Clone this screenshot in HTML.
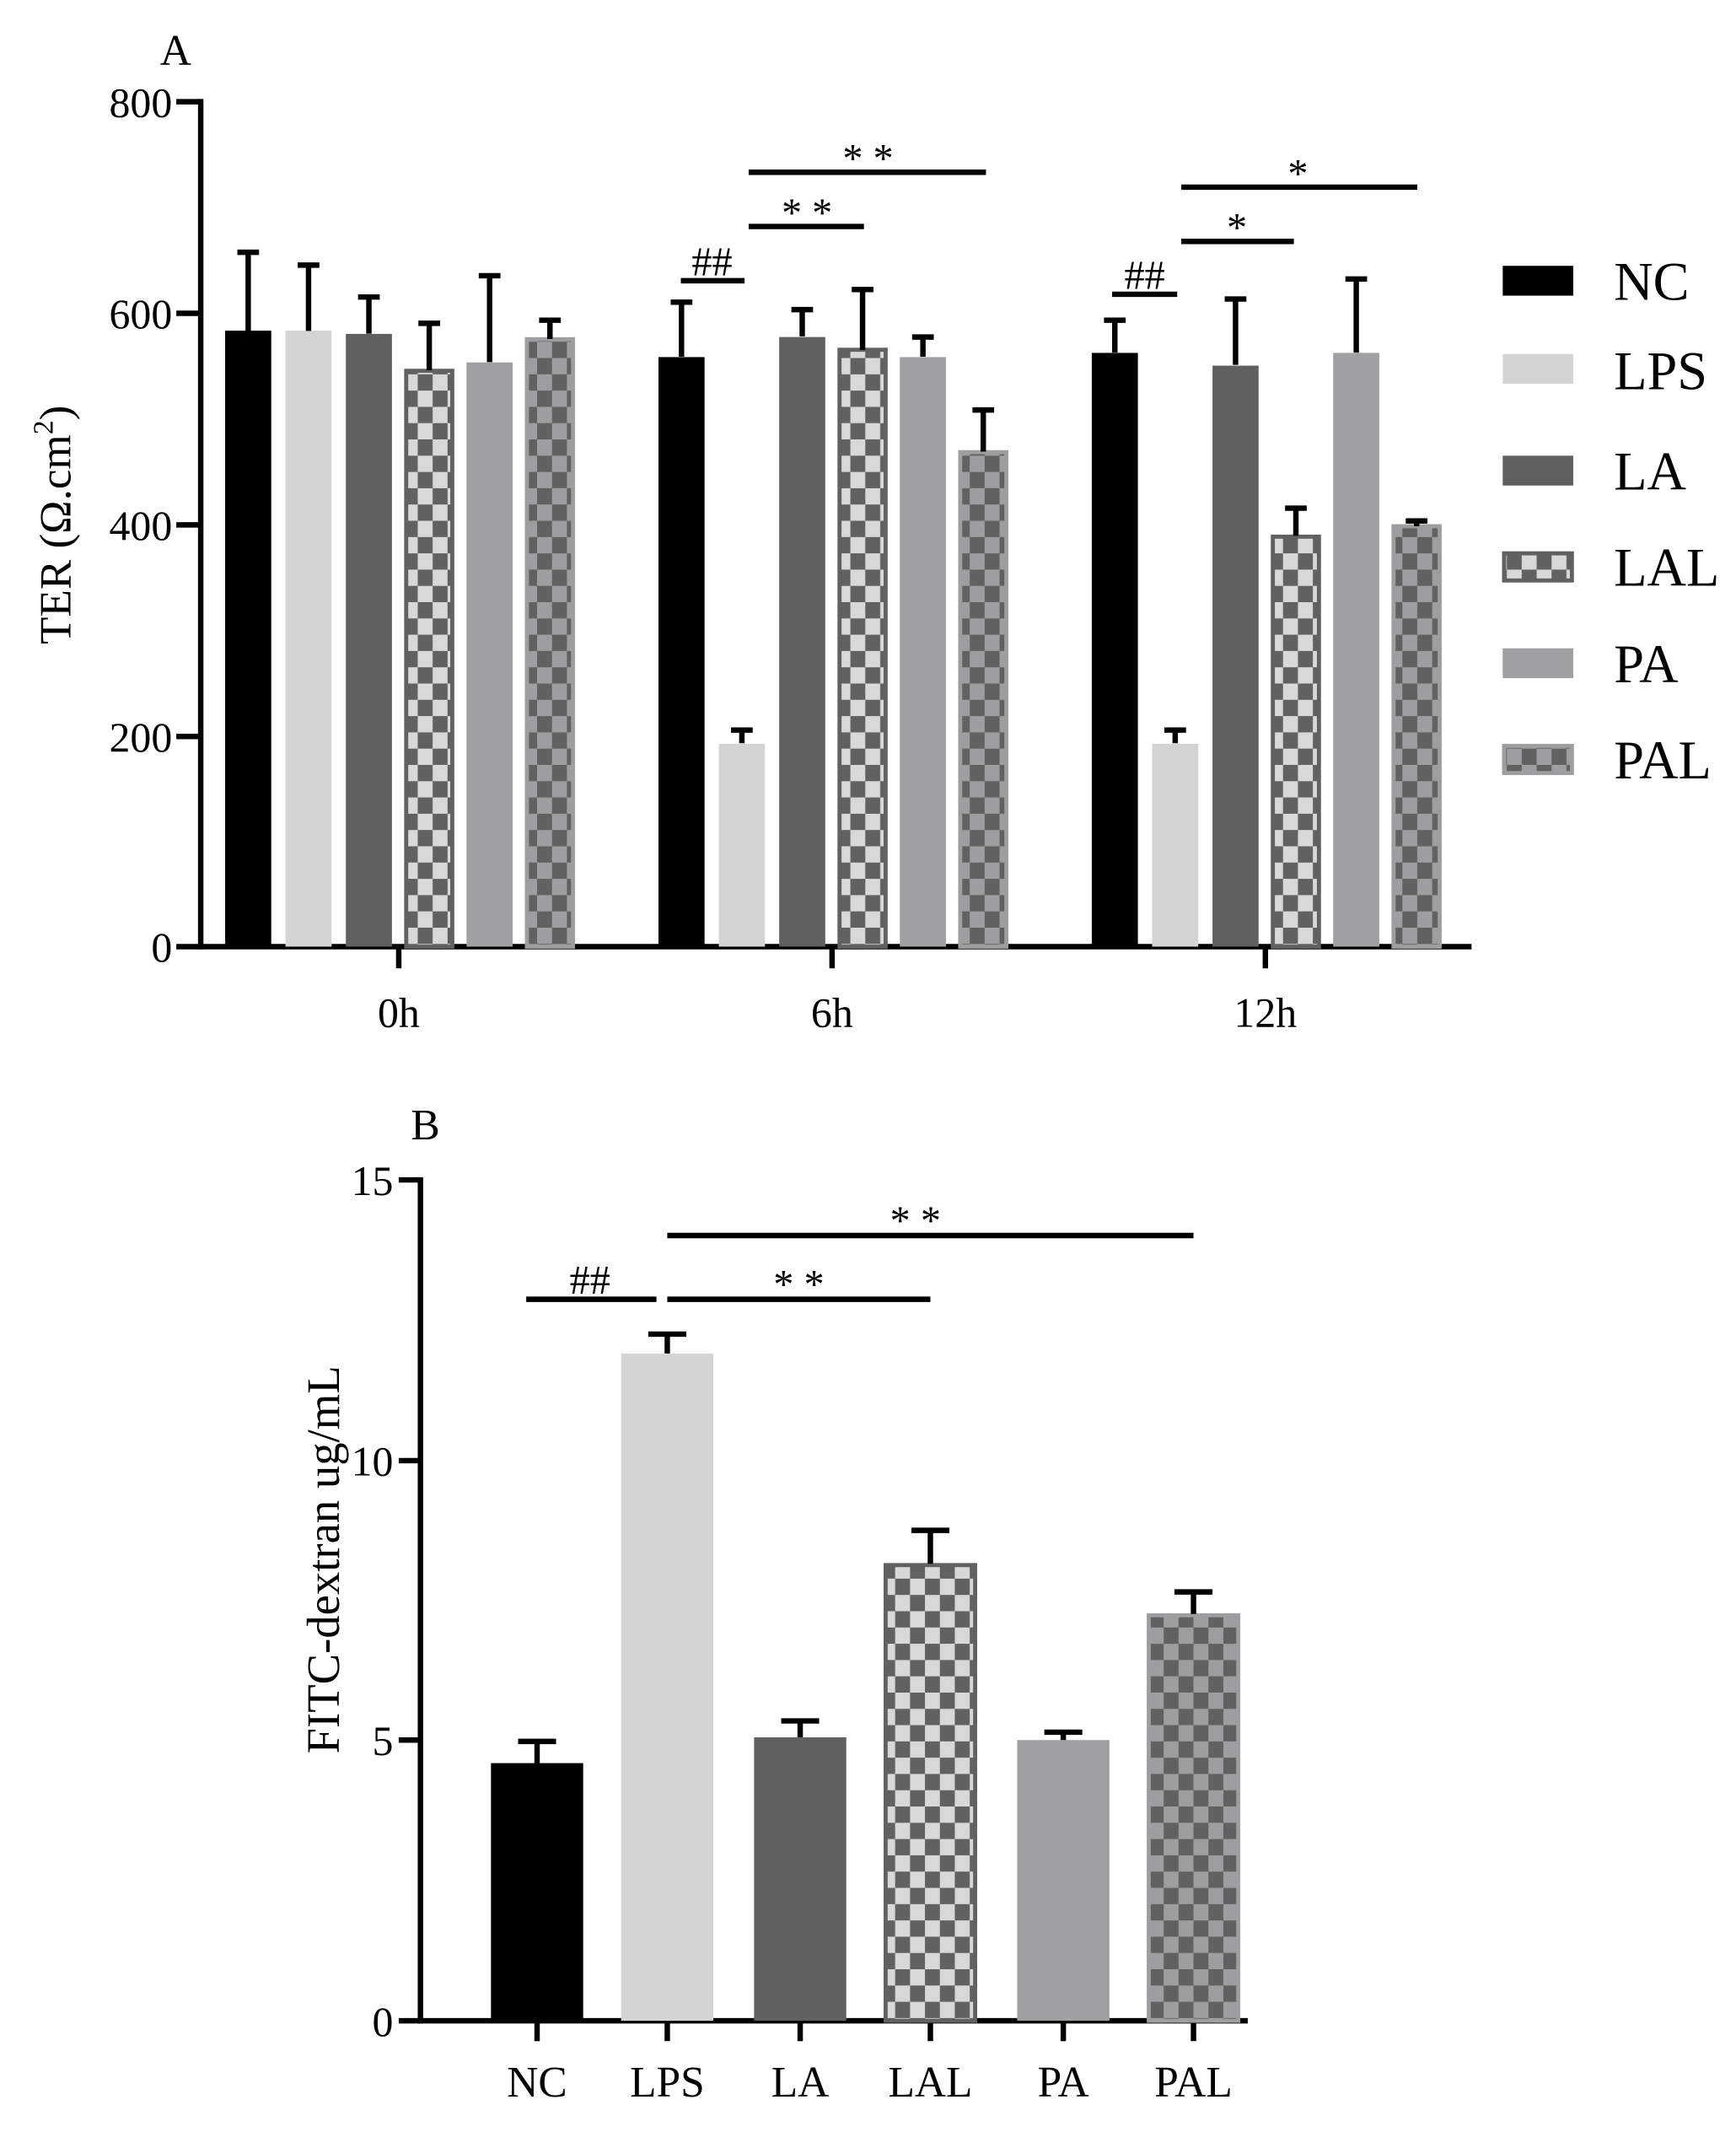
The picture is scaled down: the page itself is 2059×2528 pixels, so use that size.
<!DOCTYPE html>
<html><head><meta charset="utf-8"><style>html,body{margin:0;padding:0;background:#fff}svg{display:block}</style></head>
<body>
<svg width="2059" height="2528" viewBox="0 0 1280 1572" preserveAspectRatio="none" xmlns="http://www.w3.org/2000/svg" font-family="'Liberation Serif', serif">
<defs>
<pattern id="lal" patternUnits="userSpaceOnUse" width="22" height="24"><rect width="22" height="24" fill="#616161"/><rect x="0" y="0" width="11" height="12" fill="#d8d8d8"/><rect x="11" y="12" width="11" height="12" fill="#d8d8d8"/></pattern>
<pattern id="pal" patternUnits="userSpaceOnUse" width="22" height="24"><rect width="22" height="24" fill="#9e9ea0"/><rect x="0" y="0" width="11" height="12" fill="#616161"/><rect x="11" y="12" width="11" height="12" fill="#616161"/></pattern>
</defs>
<rect width="1280" height="1572" fill="#fff"/>
<text x="118" y="48" font-size="32">A</text>
<g font-size="31" text-anchor="end">
<text x="127" y="86">800</text><text x="127" y="242">600</text><text x="127" y="398">400</text><text x="127" y="554">200</text><text x="127" y="709">0</text></g>
<g stroke="#000" stroke-width="4">
<line x1="148" y1="73" x2="148" y2="700"/><line x1="130" y1="75" x2="148" y2="75"/><line x1="130" y1="231" x2="148" y2="231"/><line x1="130" y1="387" x2="148" y2="387"/><line x1="130" y1="543" x2="148" y2="543"/><line x1="130" y1="698" x2="1085" y2="698"/>
<line x1="294" y1="698" x2="294" y2="714"/><line x1="613.5" y1="698" x2="613.5" y2="714"/><line x1="933" y1="698" x2="933" y2="714"/></g>
<g font-size="31" text-anchor="middle"><text x="294" y="757">0h</text><text x="613.5" y="757">6h</text><text x="933" y="757">12h</text></g>
<text transform="translate(52,387) rotate(-90)" font-size="33" text-anchor="middle">TER (Ω.cm<tspan dy="-13" font-size="21">2</tspan><tspan dy="13">)</tspan></text>
<rect x="166" y="243.8" width="34" height="454.2" fill="#000"/>
<rect x="210.5" y="243.8" width="34" height="454.2" fill="#d4d4d4"/>
<rect x="255" y="246.2" width="34" height="451.8" fill="#606060"/>
<rect x="299.5" y="273.4" width="34" height="424.6" fill="url(#lal)" stroke="#616161" stroke-width="3"/>
<rect x="344" y="267.2" width="34" height="430.8" fill="#a0a0a2"/>
<rect x="388.5" y="250.1" width="34" height="447.9" fill="url(#pal)" stroke="#9e9ea0" stroke-width="3"/>
<rect x="485.5" y="263.3" width="34" height="434.7" fill="#000"/>
<rect x="530" y="548.4" width="34" height="149.6" fill="#d4d4d4"/>
<rect x="574.5" y="248.5" width="34" height="449.5" fill="#606060"/>
<rect x="619" y="257.9" width="34" height="440.1" fill="url(#lal)" stroke="#616161" stroke-width="3"/>
<rect x="663.5" y="263.3" width="34" height="434.7" fill="#a0a0a2"/>
<rect x="708" y="333.4" width="34" height="364.6" fill="url(#pal)" stroke="#9e9ea0" stroke-width="3"/>
<rect x="805" y="260.2" width="34" height="437.8" fill="#000"/>
<rect x="849.5" y="548.4" width="34" height="149.6" fill="#d4d4d4"/>
<rect x="894" y="269.6" width="34" height="428.4" fill="#606060"/>
<rect x="938.5" y="395.7" width="34" height="302.3" fill="url(#lal)" stroke="#616161" stroke-width="3"/>
<rect x="983" y="260.2" width="34" height="437.8" fill="#a0a0a2"/>
<rect x="1027.5" y="388" width="34" height="310" fill="url(#pal)" stroke="#9e9ea0" stroke-width="3"/>
<g stroke="#000" stroke-width="4">
<path d="M183 244V186M175 186H191"/><path d="M227.5 244V195.5M219.5 195.5H235.5"/><path d="M272 246V219M264 219H280"/><path d="M316.5 273V238.4M308.5 238.4H324.5"/><path d="M361 267V203.3M353 203.3H369"/><path d="M405.5 250V236.1M397.5 236.1H413.5"/>
<path d="M502.5 263V222.8M494.5 222.8H510.5"/><path d="M547 548V538.3M539 538.3H555"/><path d="M591.5 248V228.3M583.5 228.3H599.5"/><path d="M636 258V213.5M628 213.5H644"/><path d="M680.5 263V248.5M672.5 248.5H688.5"/><path d="M725 333V302.3M717 302.3H733"/>
<path d="M822 260V236.1M814 236.1H830"/><path d="M866.5 548V538.3M858.5 538.3H874.5"/><path d="M911 269V220.5M903 220.5H919"/><path d="M955.5 395V374.7M947.5 374.7H963.5"/><path d="M1000 260V205.7M992 205.7H1008"/><path d="M1044.5 388V384.1M1036.5 384.1H1052.5"/>
<line x1="502" y1="207" x2="549" y2="207"/><line x1="552" y1="167" x2="637" y2="167"/><line x1="552" y1="127" x2="727" y2="127"/>
<line x1="820" y1="217" x2="868" y2="217"/><line x1="871" y1="178" x2="954" y2="178"/><line x1="871" y1="138" x2="1045" y2="138"/>
</g>
<g font-size="30" text-anchor="middle"><text x="525" y="203">##</text><text x="595" y="167">* *</text><text x="640" y="127">* *</text><text x="844" y="213">##</text><text x="912" y="178">*</text><text x="957" y="138">*</text></g>
<rect x="1108" y="196" width="52" height="22" fill="#000"/>
<rect x="1108" y="261" width="52" height="22" fill="#d4d4d4"/>
<rect x="1108" y="336" width="52" height="22" fill="#606060"/>
<rect x="1109" y="408" width="50" height="20" fill="url(#lal)" stroke="#616161" stroke-width="3"/>
<rect x="1108" y="478" width="52" height="22" fill="#a0a0a2"/>
<rect x="1109" y="550" width="50" height="20" fill="url(#pal)" stroke="#9e9ea0" stroke-width="3"/>
<g font-size="40"><text x="1190" y="221">NC</text><text x="1190" y="287">LPS</text><text x="1190" y="361">LA</text><text x="1190" y="432">LAL</text><text x="1190" y="503">PA</text><text x="1190" y="574">PAL</text></g>
<text x="303" y="840" font-size="32">B</text>
<g font-size="31" text-anchor="end"><text x="290" y="881">15</text><text x="290" y="1088">10</text><text x="290" y="1294">5</text><text x="290" y="1501">0</text></g>
<g stroke="#000" stroke-width="4">
<line x1="310" y1="868" x2="310" y2="1492"/><line x1="294" y1="870" x2="310" y2="870"/><line x1="294" y1="1077" x2="310" y2="1077"/><line x1="294" y1="1283" x2="310" y2="1283"/><line x1="294" y1="1490" x2="920" y2="1490"/>
<line x1="396" y1="1490" x2="396" y2="1505"/><line x1="492" y1="1490" x2="492" y2="1505"/><line x1="590" y1="1490" x2="590" y2="1505"/><line x1="686" y1="1490" x2="686" y2="1505"/><line x1="784" y1="1490" x2="784" y2="1505"/><line x1="880" y1="1490" x2="880" y2="1505"/>
</g>
<g font-size="32" text-anchor="middle"><text x="396" y="1546">NC</text><text x="492" y="1546">LPS</text><text x="590" y="1546">LA</text><text x="686" y="1546">LAL</text><text x="784" y="1546">PA</text><text x="880" y="1546">PAL</text></g>
<text transform="translate(250,1150) rotate(-90)" font-size="34" text-anchor="middle">FITC-dextran ug/mL</text>
<rect x="362" y="1300" width="68" height="190" fill="#000"/>
<rect x="458" y="998" width="68" height="492" fill="#d4d4d4"/>
<rect x="556" y="1281" width="68" height="209" fill="#606060"/>
<rect x="653" y="1154" width="66" height="336" fill="url(#lal)" stroke="#616161" stroke-width="3"/>
<rect x="750" y="1283" width="68" height="207" fill="#a0a0a2"/>
<rect x="847" y="1191" width="66" height="299" fill="url(#pal)" stroke="#9e9ea0" stroke-width="3"/>
<g stroke="#000" stroke-width="4">
<path d="M396 1300V1284M382 1284H410"/><path d="M492 998V983.7M478 983.7H506"/><path d="M590 1281V1268.9M576 1268.9H604"/><path d="M686 1153V1128.4M672 1128.4H700"/><path d="M784 1283V1277.2M770 1277.2H798"/><path d="M880 1190V1173.8M866 1173.8H894"/>
<line x1="388" y1="958" x2="484" y2="958"/><line x1="492" y1="958" x2="686" y2="958"/><line x1="492" y1="911" x2="880" y2="911"/>
</g>
<g font-size="30" text-anchor="middle"><text x="435" y="954">##</text><text x="589" y="957">* *</text><text x="675" y="910">* *</text></g>
</svg>
</body></html>
